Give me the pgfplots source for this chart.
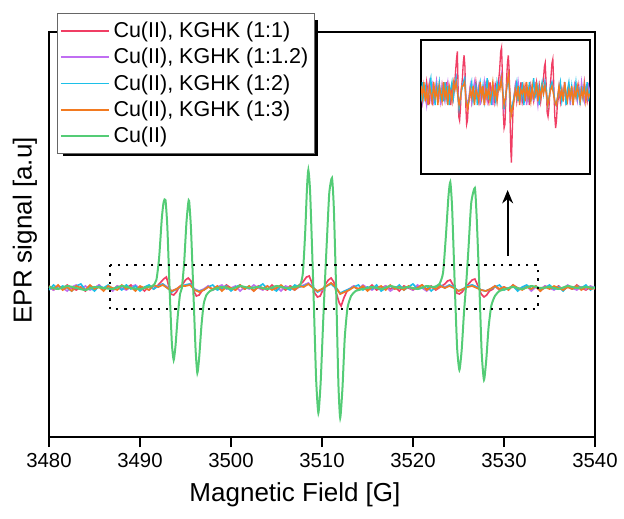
\documentclass[border=0pt]{standalone}
\usepackage{pgfplots}
\pgfplotsset{compat=1.18}
\usepackage{pgfplotstable}
\usepackage{fontspec}
\setmainfont{Liberation Sans}
\usetikzlibrary{arrows.meta}

\definecolor{cred}{RGB}{240,62,100}
\definecolor{cpur}{RGB}{192,110,242}
\definecolor{ccyan}{RGB}{28,192,232}
\definecolor{corange}{RGB}{242,122,32}
\definecolor{cgreen}{RGB}{84,204,118}

% Cu(II) alone
\pgfplotstableread{
x y
3480.0 1
3481.0 -1
3482.0 2
3483.0 0
3484.0 -2
3485.0 1
3486.0 0
3487.0 -1
3488.0 2
3489.0 0
3490.0 -1
3490.8 1
3491.4 2
3491.8 8
3492.1 30
3492.4 70
3492.6 86
3492.8 88
3493.0 62
3493.25 0
3493.5 -55
3493.7 -72
3493.9 -58
3494.15 -28
3494.4 -6
3494.6 0
3494.85 25
3495.1 65
3495.3 85
3495.4 87
3495.6 60
3495.85 0
3496.1 -60
3496.3 -85
3496.5 -70
3496.75 -38
3497.0 -16
3497.3 -7
3497.7 -3
3498.2 -1
3499.0 1
3500.0 -1
3501.0 2
3502.0 0
3503.0 1
3504.0 -1
3505.0 2
3506.0 0
3507.0 1
3507.6 3
3507.9 15
3508.15 55
3508.35 100
3508.5 118
3508.7 95
3509.05 0
3509.35 -90
3509.6 -125
3509.85 -95
3510.1 -40
3510.3 2
3510.55 50
3510.8 95
3511.1 110
3511.3 80
3511.55 0
3511.8 -95
3512.0 -130
3512.25 -100
3512.5 -50
3512.8 -20
3513.2 -8
3513.7 -3
3514.5 -1
3515.5 1
3516.5 -1
3517.5 2
3518.5 0
3519.5 1
3520.5 -1
3521.5 2
3522.3 1
3522.9 4
3523.3 15
3523.6 50
3523.9 92
3524.1 106
3524.3 80
3524.6 0
3524.85 -60
3525.1 -82
3525.35 -62
3525.6 -25
3525.85 5
3526.1 40
3526.4 85
3526.8 100
3527.0 70
3527.3 0
3527.55 -65
3527.8 -92
3528.05 -72
3528.3 -40
3528.6 -18
3529.0 -8
3529.5 -3
3530.2 -1
3531.0 1
3532.0 -1
3533.0 2
3534.0 0
3535.0 1
3536.0 -1
3537.0 2
3538.0 0
3539.0 1
3540.0 0
}\greentable

% Cu(II), KGHK (1:1)
\pgfplotstableread{
x y
3480.0 1
3480.5 -2
3481.0 2
3481.5 -1
3482.0 3
3482.5 0
3483.0 -2
3483.5 1
3484.0 -3
3484.5 2
3485.0 0
3485.5 3
3486.0 -1
3486.5 1
3487.0 -2
3487.5 2
3488.0 -1
3488.5 0
3489.0 3
3489.5 -2
3490.0 1
3490.5 -3
3491.0 2
3491.5 -1
3492.0 3
3492.3 6
3492.6 9
3492.9 11
3493.1 4
3493.4 -6
3493.7 -7
3494.0 -4
3494.3 1
3494.7 4
3495.0 8
3495.3 10
3495.6 7
3495.9 -3
3496.2 -8
3496.5 -7
3496.8 -3
3497.2 -1
3497.5 2
3498.0 -2
3498.5 1
3499.0 -1
3499.5 3
3500.0 0
3500.5 -2
3501.0 2
3501.5 -1
3502.0 1
3502.5 -3
3503.0 2
3503.5 0
3504.0 -2
3504.5 3
3505.0 -1
3505.5 1
3506.0 -2
3506.5 2
3507.0 0
3507.5 3
3507.9 6
3508.3 11
3508.6 12
3508.9 5
3509.2 -5
3509.5 -9
3509.8 -8
3510.1 -2
3510.4 4
3510.7 8
3511.0 10
3511.3 6
3511.6 -6
3511.9 -15
3512.1 -18
3512.4 -10
3512.7 -4
3513.0 -1
3513.5 2
3514.0 -2
3514.5 1
3515.0 -1
3515.5 3
3516.0 -2
3516.5 0
3517.0 2
3517.5 -1
3518.0 1
3518.5 -3
3519.0 2
3519.5 0
3520.0 -2
3520.5 1
3521.0 3
3521.5 -1
3522.0 2
3522.5 -2
3523.0 1
3523.5 4
3523.8 7
3524.1 8
3524.4 3
3524.8 -5
3525.1 -6
3525.4 -4
3525.8 1
3526.2 5
3526.5 8
3526.8 9
3527.1 3
3527.5 -6
3527.8 -9
3528.1 -7
3528.4 -3
3528.8 -1
3529.0 2
3529.5 -2
3530.0 1
3530.5 -1
3531.0 3
3531.5 -2
3532.0 0
3532.5 2
3533.0 -1
3533.5 1
3534.0 -3
3534.5 2
3535.0 0
3535.5 -1
3536.0 2
3536.5 -2
3537.0 1
3537.5 -1
3538.0 3
3538.5 0
3539.0 -2
3539.5 1
3540.0 -1
}\redtable

% (1:1.2), (1:2), (1:3)
\pgfplotstableread{
x p c o
3480.0  1 -2  2
3480.5 -2  3 -1
3481.0  2 -1  3
3481.5  0  2 -2
3482.0 -3  0  1
3482.5  1 -3 -3
3483.0  3  2  2
3483.5 -1  4  0
3484.0  2 -2 -2
3484.5 -2  1  3
3485.0  0 -3 -1
3485.5  3  2  1
3486.0 -1  0 -3
3486.5  1  3  2
3487.0 -3 -1  0
3487.5  2  1 -2
3488.0  0 -2  3
3488.5 -2  3 -1
3489.0  1 -1  1
3489.5  3  2 -3
3490.0 -1 -3  2
3490.5  0  1  0
3491.0 -2  3 -2
3491.5  2 -1  3
3492.0  1  2  1
3492.5  4  4  3
3493.0  1  0  0
3493.5 -3 -4 -3
3494.0 -1 -1 -1
3494.5  2  1  2
3495.0  3  3  2
3495.5  4  4  3
3496.0 -1 -2 -2
3496.5 -3 -3 -4
3497.0 -1 -2 -2
3497.5  2  1  1
3498.0 -2  3 -1
3498.5  1 -2  2
3499.0  3  0 -3
3499.5 -1  2  1
3500.0  0 -3  0
3500.5  2  1 -2
3501.0 -3  3  3
3501.5  1 -1 -1
3502.0 -1  2  2
3502.5  3 -2 -3
3503.0  0  1  1
3503.5 -2  4 -1
3504.0  2 -1  2
3504.5 -1  0 -2
3505.0  1 -3  0
3505.5 -3  2  3
3506.0  2  0 -1
3506.5  0 -2  1
3507.0 -2  3 -2
3507.5  1  1  2
3508.0  3  2  1
3508.5  5  4  4
3509.0  1  1  0
3509.5 -4 -4 -3
3510.0 -2 -1 -1
3510.5  2  2  2
3511.0  5  4  5
3511.5  1  0  1
3512.0 -6 -5 -6
3512.5 -3 -3 -4
3513.0 -1 -1 -2
3513.5  2  1  1
3514.0 -1  3 -1
3514.5  3 -2  2
3515.0  0  1 -3
3515.5 -2 -1  1
3516.0  1  3  0
3516.5 -1 -3  2
3517.0  2  0 -2
3517.5 -3  2  3
3518.0  0 -1 -1
3518.5  2  3  1
3519.0 -1 -2 -2
3519.5  1  1  2
3520.0 -2  4 -1
3520.5  3 -1  0
3521.0  0  0  3
3521.5 -3  2 -2
3522.0  1 -3  1
3522.5 -1  1 -1
3523.0  2  3  2
3523.5  1  0  0
3524.0  3  3  2
3524.5  0  1  0
3525.0 -3 -3 -3
3525.5 -1 -1 -1
3526.0  1  2  1
3526.5  3  3  2
3527.0  1  1  0
3527.5 -2 -2 -2
3528.0 -3 -3 -3
3528.5 -1 -1 -1
3529.0  2  1  2
3529.5 -1  3 -1
3530.0  1 -2  1
3530.5 -2  0 -2
3531.0  3  2  3
3531.5  0 -3  0
3532.0 -1  1 -2
3532.5  2  3  1
3533.0 -3 -1 -1
3533.5  1  2  2
3534.0 -1 -2 -3
3534.5  2  0  1
3535.0  0  3 -1
3535.5 -2 -1  2
3536.0  1  1  0
3536.5 -1 -3 -2
3537.0  3  2  1
3537.5  0 -1 -1
3538.0 -2  2  2
3538.5  1  0 -2
3539.0 -1  3  1
3539.5  2 -2 -1
3540.0  0  1  0
}\othertable

\begin{document}
\begin{tikzpicture}
\path[use as bounding box] (-29.4pt,-48.6pt) rectangle (345pt,262.2pt);
% legend shadow
\fill[black] (8.4pt,168.6pt) rectangle (161.4pt,250.2pt);
\begin{axis}[
  at={(0,0)}, anchor=south west,
  scale only axis, width=327.6pt, height=243pt,
  xmin=3480, xmax=3540, ymin=-149, ymax=256,
  xtick={3480,3490,...,3540}, ytick=\empty,
  xtick pos=left, tick align=outside,
  major tick length=6pt,
  every tick/.style={black, line width=0.9pt},
  axis line style={line width=0.9pt},
  /pgf/number format/assume math mode=true,
  xticklabel style={/pgf/number format/1000 sep=, font=\fontsize{12.2pt}{14pt}\selectfont},
  xlabel={Magnetic Field [G]}, ylabel={EPR signal [a.u]},
  label style={font=\fontsize{15.6pt}{19pt}\selectfont},
  xlabel style={at={(axis description cs:0.4505,-0.143)}, anchor=center},
  ylabel style={at={(axis description cs:-0.044,0.51)}, anchor=center},
  legend cell align=left,
  legend style={at={(axis description cs:0.0147,1.047)}, anchor=north west,
    draw=black!60, fill=white, font=\fontsize{12.9pt}{15pt}\selectfont,
    inner xsep=1.5pt, inner ysep=3.2pt, row sep=0.9pt},
  legend image code/.code={\draw[#1] (0pt,0pt) -- (29pt,0pt);},
  every axis plot/.append style={line width=1pt},
]
\addplot[cred] table[x=x,y=y] {\redtable};
\addlegendentry{Cu(II), KGHK (1:1)}
\addplot[cpur] table[x=x,y=p] {\othertable};
\addlegendentry{Cu(II), KGHK (1:1.2)}
\addplot[ccyan] table[x=x,y=c] {\othertable};
\addlegendentry{Cu(II), KGHK (1:2)}
\addplot[corange] table[x=x,y=o] {\othertable};
\addlegendentry{Cu(II), KGHK (1:3)}
\addplot[cgreen, line width=1.2pt, smooth, tension=0.35] table[x=x,y=y] {\greentable};
\addlegendentry{Cu(II)}
\draw[black, line width=1.4pt, dash pattern=on 1.4pt off 3.6pt] (axis cs:3486.7,23) rectangle (axis cs:3533.7,-21);
\draw[black, line width=1.3pt, -{Stealth[length=8pt,width=6.5pt]}] (axis cs:3530.4,32) -- (axis cs:3530.4,98);
\end{axis}
\begin{axis}[
  at={(223.2pt,157.8pt)}, anchor=south west,
  scale only axis, width=101.4pt, height=80.4pt,
  xmin=3480, xmax=3540, ymin=-21, ymax=14,
  ticks=none,
  axis line style={line width=1.3pt},
  axis background/.style={fill=white},
  every axis plot/.append style={line width=0.8pt},
]
\addplot[cred] table[x=x,y=y] {\redtable};
\addplot[cpur] table[x=x,y=p] {\othertable};
\addplot[ccyan] table[x=x,y=c] {\othertable};
\addplot[corange] table[x=x,y=o] {\othertable};
\end{axis}
\end{tikzpicture}
\end{document}
